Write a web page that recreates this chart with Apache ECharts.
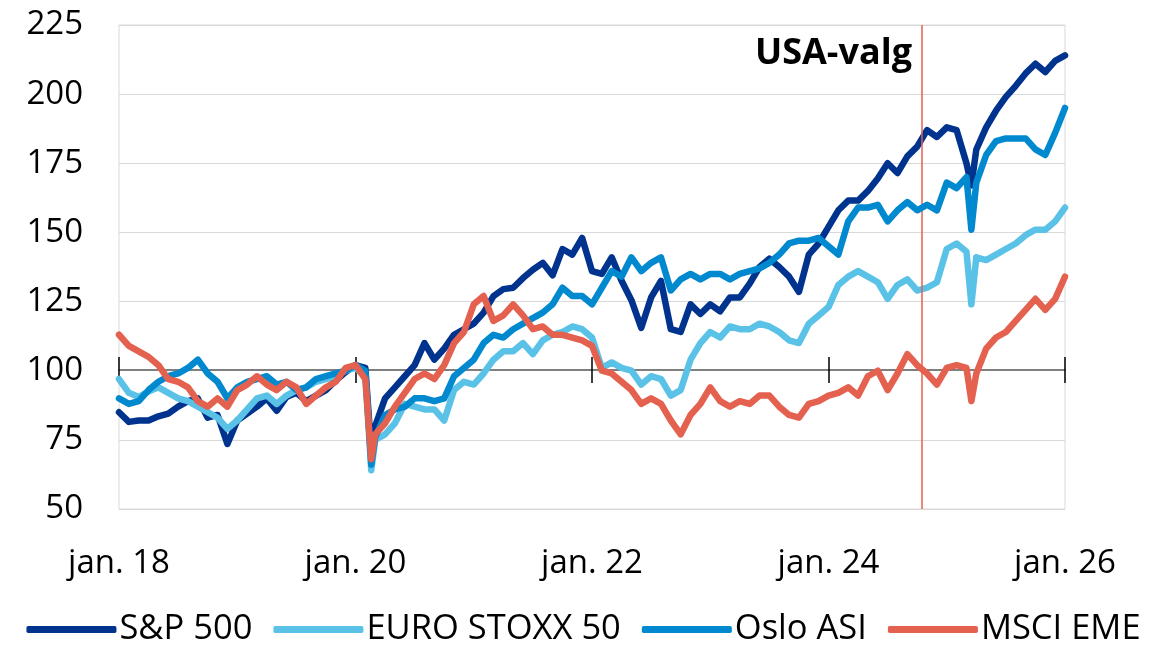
<!DOCTYPE html>
<html>
<head>
<meta charset="utf-8">
<script src="https://cdn.jsdelivr.net/npm/echarts@6/dist/echarts.min.js"></script>
<style>
html,body{margin:0;padding:0;background:#fff;}
#chart{width:1167px;height:648px;}
</style>
</head>
<body>
<div id="chart"></div>
<script>
// x positions: months since jan. 18 (chart scale)
const months = [0,1,2,3,4,5,6,7,8,9,10,11,12,13,14,15,16,17,18,19,20,21,22,23,24,25,25.6,
26,27,28,29,30,31,32,33,34,35,36,37,38,39,40,41,42,43,44,45,46,47,48,49,50,51,52,53,54,55,
56,57,58,59,60,61,62,63,64,65,66,67,68,69,70,71,72,73,74,75,76,77,78,79,80,81,82,83,84,85,86,86.5,
87,88,89,90,91,92,93,94,95,96];

const tickLabels = ['jan. 18','jan. 20','jan. 22','jan. 24','jan. 26'];
const seriesNames = ['S&P 500','EURO STOXX 50','Oslo ASI','MSCI EME'];
const electionLabel = 'USA-valg';
const electionMonth = 81.5;

const sp500 = [85,81.5,82,82,83.5,84.5,87,89,90,83,84,73.5,82,84.5,87,90,85.5,90.5,92,89,91,93,96.5,99.5,102,101,71,
80,90,94,98,102,110,104,108,113,115,117,121,127,129.5,130,133.5,136.5,139,134.5,144,142,148,136,135,141,132.5,125.5,115.5,126.5,132.5,
115,114,124,120.5,124,121.5,126.5,126.5,131.5,137.5,140.5,137.5,134,128.5,142,146,152,158,161.5,161.5,165,169.5,175,171.5,177.5,181,187,184.5,188,187,175,167,
180,188,194,199,203,207.5,211,208,212,214];

const stoxx50 = [97,92,90.5,92.5,94,92,90,89,87,85,83,79,82,86,90,91,88,91,93,94,96,97,98,100,101,98,64,
75,77,81,88,87,86,86,82,93,96,95,99,104,107,107,110,106,111,113,114,116,115,112,101,103,101,100,95,98,97,
91,93,104,110,114,112,116,115,115,117,116,114,111,110,117,120,123,131,134,136,134,132,126,131,133,129,130,132,144,146,143,124,
141,140,142,144,146,149,151,151,154,159];

const osloAsi = [90,88,89,93,96,98,99,101,104,99,96,90,94,96,97,98,95,96,93,94,97,98,99,100,102,100,66,
76,84,86,87,90,90,89,90,98,101,104,110,113,112,115,117,119,121,124,130,127,127,124,130,136,134,141,136,139,141,
129,133,135,133,135,135,133,135,136,137,139,142,146,147,147,148,145,142,154,159,159,160,154,158,161,158,160,158,168,166,170,151,
168,178,183,184,184,184,180,178,186,195];

const msciEme = [113,109,107,105,102,97,96,94,89,87,90,87,93,95,98,95,93,96,94,88,91,94,96,101,102,97,68,
77,81,87,92,97,99,97,102,110,114,124,127,118,120,124,120,115,116,113,113,112,111,109,100,99,96,93,88,90,88,
82,77,84,88,94,89,87,89,88,91,91,87,84,83,88,89,91,92,94,91,98,100,93,99,106,102,99,95,101,102,101,89,
99,108,112,114,118,122,126,122,126,134];

const colors = ['#00338D','#5BC2E7','#0089CF','#E4604F'];
const FONT = '"Open Sans", "Noto Sans", sans-serif';

const pair = arr => months.map((m, i) => [m, arr[i]]);
const allData = [sp500, stoxx50, osloAsi, msciEme];

const series = seriesNames.map((name, k) => ({
  name: name,
  type: 'line',
  xAxisIndex: 0,
  data: pair(allData[k]),
  symbol: 'none',
  showSymbol: false,
  color: colors[k],
  lineStyle: {width: 6.5, color: colors[k], cap: 'round', join: 'round'},
  z: 3 + k,
  animation: false
}));
series[3].markLine = {
  silent: true,
  symbol: ['none','none'],
  label: {show: false},
  lineStyle: {color: '#E4604F', width: 1.5, type: 'solid'},
  data: [{xAxis: electionMonth}],
  animation: false
};

const baseX = {
  type: 'value', min: 0, max: 96, interval: 24,
  splitLine: {show: false}
};

const chart = echarts.init(document.getElementById('chart'), null, {renderer: 'canvas'});
chart.setOption({
  animation: false,
  backgroundColor: '#fff',
  textStyle: {fontFamily: FONT},
  grid: {left: 119, right: 102, top: 25, bottom: 139, show: true, borderColor: '#d9d9d9', borderWidth: 1, containLabel: false},
  xAxis: [
    Object.assign({}, baseX, {
      position: 'bottom',
      axisLine: {show: false},
      axisTick: {show: false},
      axisLabel: {
        show: true, fontSize: 33, color: '#000', fontFamily: FONT, margin: 38,
        formatter: v => tickLabels[Math.round(v / 24)] || ''
      }
    }),
    Object.assign({}, baseX, {
      position: 'bottom', offset: -139,
      axisLine: {show: true, lineStyle: {color: '#7f7f7f', width: 2}},
      axisTick: {show: true, inside: false, length: 13, lineStyle: {color: '#000', width: 1.5}},
      axisLabel: {show: false}
    }),
    Object.assign({}, baseX, {
      position: 'bottom', offset: -139,
      axisLine: {show: false},
      axisTick: {show: true, inside: true, length: 13, lineStyle: {color: '#000', width: 1.5}},
      axisLabel: {show: false}
    })
  ],
  yAxis: {
    type: 'value', min: 50, max: 225, interval: 25,
    axisLine: {show: false},
    axisTick: {show: false},
    axisLabel: {fontSize: 33, color: '#000', fontFamily: FONT, margin: 36},
    splitLine: {lineStyle: {color: '#d9d9d9', width: 1}}
  },
  legend: {
    data: seriesNames,
    top: 607, left: 'center',
    icon: 'roundRect', itemWidth: 90, itemHeight: 7, itemGap: 21,
    textStyle: {fontSize: 34.5, color: '#000', fontFamily: FONT, padding: [0,0,0,-2]},
    selectedMode: false
  },
  graphic: [{
    type: 'text', right: 1167 - 912, top: 36, silent: true,
    style: {text: electionLabel, font: 'bold 36px ' + FONT, fill: '#000'}
  }],
  series: series
});
</script>
</body>
</html>
